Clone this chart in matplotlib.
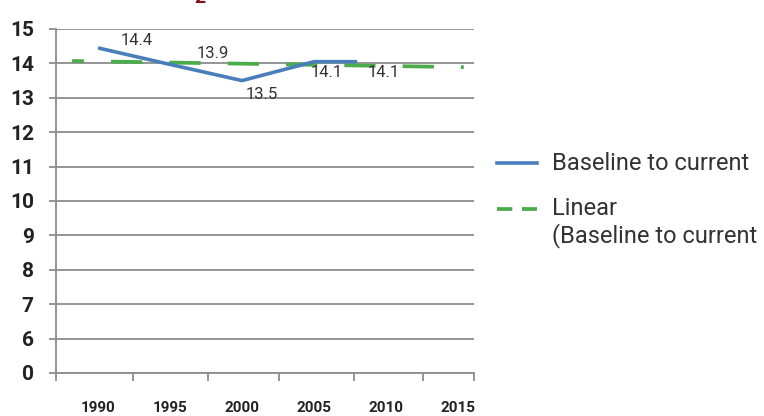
import numpy as np
import matplotlib
matplotlib.use("Agg")
import matplotlib.pyplot as plt
from matplotlib.lines import Line2D

plt.rcParams['font.family'] = ['Roboto', 'DejaVu Sans']
plt.rcParams['lines.scale_dashes'] = False

# data
years = [1990, 1995, 2000, 2005, 2008]
values = [14.45, 13.97, 13.5, 14.05, 14.05]
value_labels = ["14.4", "13.9", "13.5", "14.1", "14.1"]
trend_years = [1988.2, 2015.4]
trend_values = [14.07, 13.89]
tick_years = [1990, 1995, 2000, 2005, 2010, 2015]
y_ticks = [5, 6, 7, 8, 9, 10, 11, 12, 13, 14, 15]
y_tick_labels = ["0", "6", "7", "8", "9", "10", "11", "12", "13", "14", "15"]
series_name = "Baseline to current"
trend_name = "Linear\n(Baseline to current"

blue = "#4a7ebb"
green = "#4bac4b"
grid_col = "#8c8c8c"
txt_col = "#333333"

fig = plt.figure(figsize=(7.64, 4.16), dpi=100)
ax = fig.add_axes([56 / 764, 43 / 416, 418 / 764, 344 / 416])

# linear trend line (Excel style)
ax.plot(trend_years, trend_values, color=green, lw=2.7,
        linestyle=(14, (22.5, 19.5)), zorder=3)

ax.plot(years, values, color=blue, lw=2.6, solid_capstyle='butt', zorder=4)

# data labels, nudged like in the original
offsets = [(28, 5), (31, 8), (14, -10), (9, -8), (19, -8)]
for x, v, lab, off in zip(years, values, value_labels, offsets):
    ax.annotate(lab, (x, v), xytext=off, textcoords='offset points',
                ha='center', va='center', fontsize=12, color=txt_col, zorder=5)

ax.set_xlim(1987.08, 2016.11)
ax.set_ylim(5, 15)

ax.set_yticks(y_ticks)
ax.set_yticklabels(y_tick_labels, fontsize=15, fontweight='bold', color='#222222')
ax.tick_params(axis='y', length=5, width=1.3, color=grid_col, pad=11)

ax.set_xticks(tick_years)
ax.set_xticklabels([str(t) for t in tick_years], fontsize=11, fontweight='bold', color='#222222')
ax.tick_params(axis='x', which='major', length=0, pad=20)
ax.set_xticks([1987.08, 1992.43, 1997.64, 2002.57, 2007.78, 2012.57, 2016.11], minor=True)
ax.tick_params(axis='x', which='minor', length=6, width=1.3, color=grid_col)

ax.grid(axis='y', color=grid_col, lw=1.3)
for s in ['top', 'right']:
    ax.spines[s].set_visible(False)
for s in ['left', 'bottom']:
    ax.spines[s].set_color(grid_col)
    ax.spines[s].set_linewidth(1.3)
ax.spines['left'].set_bounds(5, 15)

# legend drawn by hand to match the layout
fig.add_artist(Line2D([497 / 764, 537 / 764], [1 - 163 / 416] * 2, color=blue, lw=2.6))
fig.add_artist(Line2D([497 / 764, 537 / 764], [1 - 209 / 416] * 2, color=green, lw=2.7,
                      dashes=(11, 7)))
fig.text(552 / 764, 1 - 164 / 416, series_name, fontsize=17, color=txt_col, va='center')
fig.text(552 / 764, 1 - 197 / 416, trend_name, fontsize=17, color=txt_col, va='top',
         linespacing=1.15)

# clipped bit of the title above the chart (cut off in the original too)
fig.text(200 / 764, 1 - 3 / 416, "2", fontsize=14, fontweight='bold', color='#7f1416',
         ha='center', va='baseline')

fig.savefig("out.png", dpi=100)
